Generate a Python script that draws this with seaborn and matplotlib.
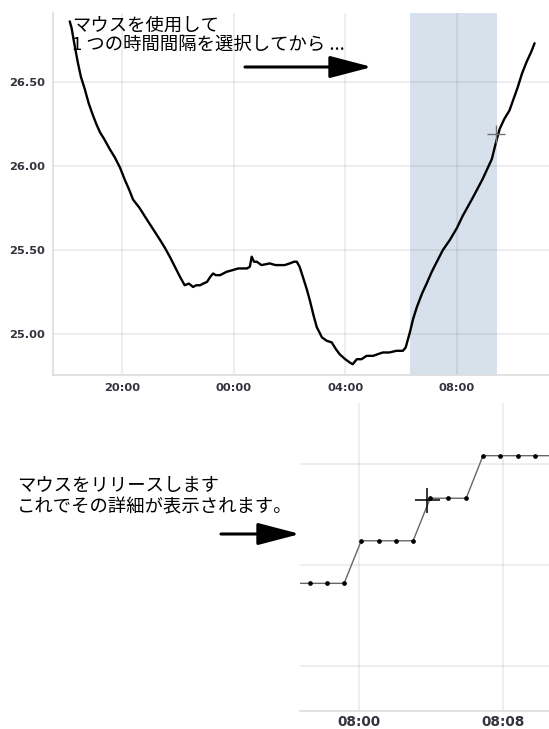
import pandas as pd
import matplotlib
matplotlib.use("Agg")
import matplotlib.pyplot as plt
from matplotlib.patches import FancyArrowPatch
import seaborn as sns

# overview: temperature from the evening of day 1 to the morning of day 2
top_times = [
    "2015-06-01 18:08", "2015-06-01 18:12", "2015-06-01 18:17", "2015-06-01 18:21",
    "2015-06-01 18:25", "2015-06-01 18:32", "2015-06-01 18:40", "2015-06-01 18:49",
    "2015-06-01 18:58", "2015-06-01 19:05", "2015-06-01 19:13", "2015-06-01 19:22",
    "2015-06-01 19:34", "2015-06-01 19:45", "2015-06-01 19:56", "2015-06-01 20:06",
    "2015-06-01 20:17", "2015-06-01 20:24", "2015-06-01 20:38", "2015-06-01 20:54",
    "2015-06-01 21:08", "2015-06-01 21:22", "2015-06-01 21:33", "2015-06-01 21:43",
    "2015-06-01 21:54", "2015-06-01 22:05", "2015-06-01 22:15", "2015-06-01 22:24",
    "2015-06-01 22:33", "2015-06-01 22:40", "2015-06-01 22:48", "2015-06-01 22:55",
    "2015-06-01 23:03", "2015-06-01 23:10", "2015-06-01 23:16", "2015-06-01 23:22",
    "2015-06-01 23:31", "2015-06-01 23:45", "2015-06-01 23:58", "2015-06-02 00:10",
    "2015-06-02 00:20", "2015-06-02 00:29", "2015-06-02 00:35", "2015-06-02 00:39",
    "2015-06-02 00:44", "2015-06-02 00:50", "2015-06-02 01:00", "2015-06-02 01:18",
    "2015-06-02 01:30", "2015-06-02 01:39", "2015-06-02 01:50", "2015-06-02 02:01",
    "2015-06-02 02:10", "2015-06-02 02:16", "2015-06-02 02:22", "2015-06-02 02:29",
    "2015-06-02 02:37", "2015-06-02 02:44", "2015-06-02 02:52", "2015-06-02 02:59",
    "2015-06-02 03:10", "2015-06-02 03:20", "2015-06-02 03:31", "2015-06-02 03:40",
    "2015-06-02 03:48", "2015-06-02 04:00", "2015-06-02 04:10", "2015-06-02 04:16",
    "2015-06-02 04:25", "2015-06-02 04:35", "2015-06-02 04:46", "2015-06-02 05:00",
    "2015-06-02 05:10", "2015-06-02 05:21", "2015-06-02 05:35", "2015-06-02 05:50",
    "2015-06-02 06:04", "2015-06-02 06:10", "2015-06-02 06:19", "2015-06-02 06:26",
    "2015-06-02 06:34", "2015-06-02 06:45", "2015-06-02 06:55", "2015-06-02 07:06",
    "2015-06-02 07:17", "2015-06-02 07:30", "2015-06-02 07:45", "2015-06-02 08:00",
    "2015-06-02 08:12", "2015-06-02 08:34", "2015-06-02 08:55", "2015-06-02 09:15",
    "2015-06-02 09:25", "2015-06-02 09:32", "2015-06-02 09:42", "2015-06-02 09:53",
    "2015-06-02 10:02", "2015-06-02 10:11", "2015-06-02 10:20", "2015-06-02 10:30",
    "2015-06-02 10:40", "2015-06-02 10:47",
]
top_values = [
    26.86, 26.82, 26.74, 26.68, 26.62, 26.53, 26.46, 26.37,
    26.30, 26.25, 26.20, 26.16, 26.10, 26.05, 25.99, 25.92,
    25.85, 25.80, 25.75, 25.68, 25.62, 25.56, 25.51, 25.46,
    25.40, 25.34, 25.29, 25.30, 25.28, 25.29, 25.29, 25.30,
    25.31, 25.34, 25.36, 25.35, 25.35, 25.37, 25.38, 25.39,
    25.39, 25.39, 25.40, 25.46, 25.43, 25.43, 25.41, 25.42,
    25.41, 25.41, 25.41, 25.42, 25.43, 25.43, 25.40, 25.34,
    25.27, 25.20, 25.11, 25.04, 24.98, 24.96, 24.95, 24.91,
    24.88, 24.85, 24.83, 24.82, 24.85, 24.85, 24.87, 24.87,
    24.88, 24.89, 24.89, 24.90, 24.90, 24.92, 25.01, 25.09,
    25.16, 25.24, 25.30, 25.37, 25.43, 25.50, 25.56, 25.63,
    25.70, 25.81, 25.92, 26.04, 26.15, 26.22, 26.28, 26.33,
    26.40, 26.47, 26.55, 26.62, 26.68, 26.73,
]
top_xticks = ["2015-06-01 20:00", "2015-06-02 00:00", "2015-06-02 04:00", "2015-06-02 08:00"]
top_xlabels = ["20:00", "00:00", "04:00", "08:00"]
top_yticks = [25.0, 25.5, 26.0, 26.5]
top_ylabels = ["25.00", "25.50", "26.00", "26.50"]
selection = ["2015-06-02 06:19", "2015-06-02 09:26"]
top_cursor = ("2015-06-02 09:25", 26.19)

# detail: the selected interval, one reading per minute
detail_times = [
    "2015-06-02 07:56:17", "2015-06-02 07:57:17", "2015-06-02 07:58:13", "2015-06-02 07:59:10",
    "2015-06-02 08:00:07", "2015-06-02 08:01:07", "2015-06-02 08:02:03", "2015-06-02 08:03:00",
    "2015-06-02 08:03:57", "2015-06-02 08:04:57", "2015-06-02 08:05:57",
    "2015-06-02 08:06:53", "2015-06-02 08:07:50", "2015-06-02 08:08:50", "2015-06-02 08:09:47",
    "2015-06-02 08:10:43",
]
detail_values = [
    25.741, 25.741, 25.741, 25.741,
    25.762, 25.762, 25.762, 25.762,
    25.783, 25.783, 25.783,
    25.804, 25.804, 25.804, 25.804,
    25.804,
]
detail_xticks = ["2015-06-02 08:00", "2015-06-02 08:08"]
detail_xlabels = ["08:00", "08:08"]
detail_yticks = [25.70, 25.75, 25.80]
detail_cursor = ("2015-06-02 08:03:47", 25.782)

text_top = "マウスを使用して\n1 つの時間間隔を選択してから ..."
text_bottom = "マウスをリリースします\nこれでその詳細が表示されます。"

sns.set_theme(style="whitegrid")
plt.rcParams["font.family"] = ["Noto Sans CJK JP", "DejaVu Sans"]

W, H = 549, 729
fig = plt.figure(figsize=(W / 100, H / 100), dpi=100)

grid_kw = dict(color="black", alpha=0.08, linewidth=1.2)
tick_font = dict(family="DejaVu Sans", fontweight="bold", color="#33333f")

# ---- overview panel
ax1 = fig.add_axes([53 / W, 1 - 375 / H, 496 / W, 362 / H])
ax1.axvspan(pd.Timestamp(selection[0]), pd.Timestamp(selection[1]),
            color="#d6e1eb", lw=0, zorder=0.3)
sns.lineplot(x=pd.to_datetime(top_times), y=top_values, ax=ax1,
             color="black", linewidth=1.7)
ax1.plot(pd.Timestamp(top_cursor[0]), top_cursor[1], marker="+", ms=13,
         mew=1.0, color="#707070")
ax1.set_xlim(pd.Timestamp("2015-06-01 17:32"), pd.Timestamp("2015-06-02 11:18"))
ax1.set_ylim(24.756, 26.91)
ax1.set_xticks(pd.to_datetime(top_xticks))
ax1.set_xticklabels(top_xlabels, fontsize=8.2, **tick_font)
ax1.set_yticks(top_yticks)
ax1.set_yticklabels(top_ylabels, fontsize=8.2, **tick_font)
ax1.set_xlabel("")
ax1.set_ylabel("")
ax1.grid(True, **grid_kw)
ax1.set_axisbelow(True)
ax1.tick_params(length=3, width=1, color="#dddddd", pad=3)
for side in ["top", "right"]:
    ax1.spines[side].set_visible(False)
for side in ["left", "bottom"]:
    ax1.spines[side].set_color("#dcdcdc")
    ax1.spines[side].set_linewidth(1.2)

# ---- detail panel
ax2 = fig.add_axes([300 / W, 1 - 711 / H, 249 / W, 308 / H])
sns.lineplot(x=pd.to_datetime(detail_times), y=detail_values, ax=ax2,
             color="#666666", linewidth=1.0, marker="o", markersize=2.6,
             markerfacecolor="black", markeredgecolor="black")
ax2.plot(pd.Timestamp(detail_cursor[0]), detail_cursor[1], marker="+", ms=18,
         mew=1.1, color="black")
ax2.set_xlim(pd.Timestamp("2015-06-02 07:56:43"), pd.Timestamp("2015-06-02 08:10:33"))
ax2.set_ylim(25.678, 25.830)
ax2.set_xticks(pd.to_datetime(detail_xticks))
ax2.set_xticklabels(detail_xlabels, fontsize=9.8, **tick_font)
ax2.set_yticks(detail_yticks)
ax2.set_yticklabels([])
ax2.set_xlabel("")
ax2.set_ylabel("")
ax2.grid(True, **grid_kw)
ax2.set_axisbelow(True)
ax2.tick_params(axis="x", length=2, width=1, color="#dddddd", pad=0.8)
ax2.tick_params(axis="y", length=0)
for side in ["top", "right", "left"]:
    ax2.spines[side].set_visible(False)
ax2.spines["bottom"].set_color("#dcdcdc")
ax2.spines["bottom"].set_linewidth(1.2)

# ---- instructions and arrows
fig.text(72 / W, 1 - 17 / H, text_top, fontsize=13.2, va="top", ha="left",
         color="black", linespacing=1.08)
fig.text(17 / W, 1 - 477 / H, text_bottom, fontsize=13.2, va="top", ha="left",
         color="black", linespacing=1.25)

arrow_style = "-|>,head_length=26,head_width=6.8"
for (x0, y0), (x1, y1) in [((245, 67), (372, 67)), ((221, 534), (300, 534))]:
    fig.add_artist(FancyArrowPatch((x0 / W, 1 - y0 / H), (x1 / W, 1 - y1 / H),
                                   transform=fig.transFigure, arrowstyle=arrow_style,
                                   mutation_scale=1, shrinkA=0, shrinkB=0,
                                   lw=2.2, color="black"))

fig.savefig("out.png", dpi=100)
